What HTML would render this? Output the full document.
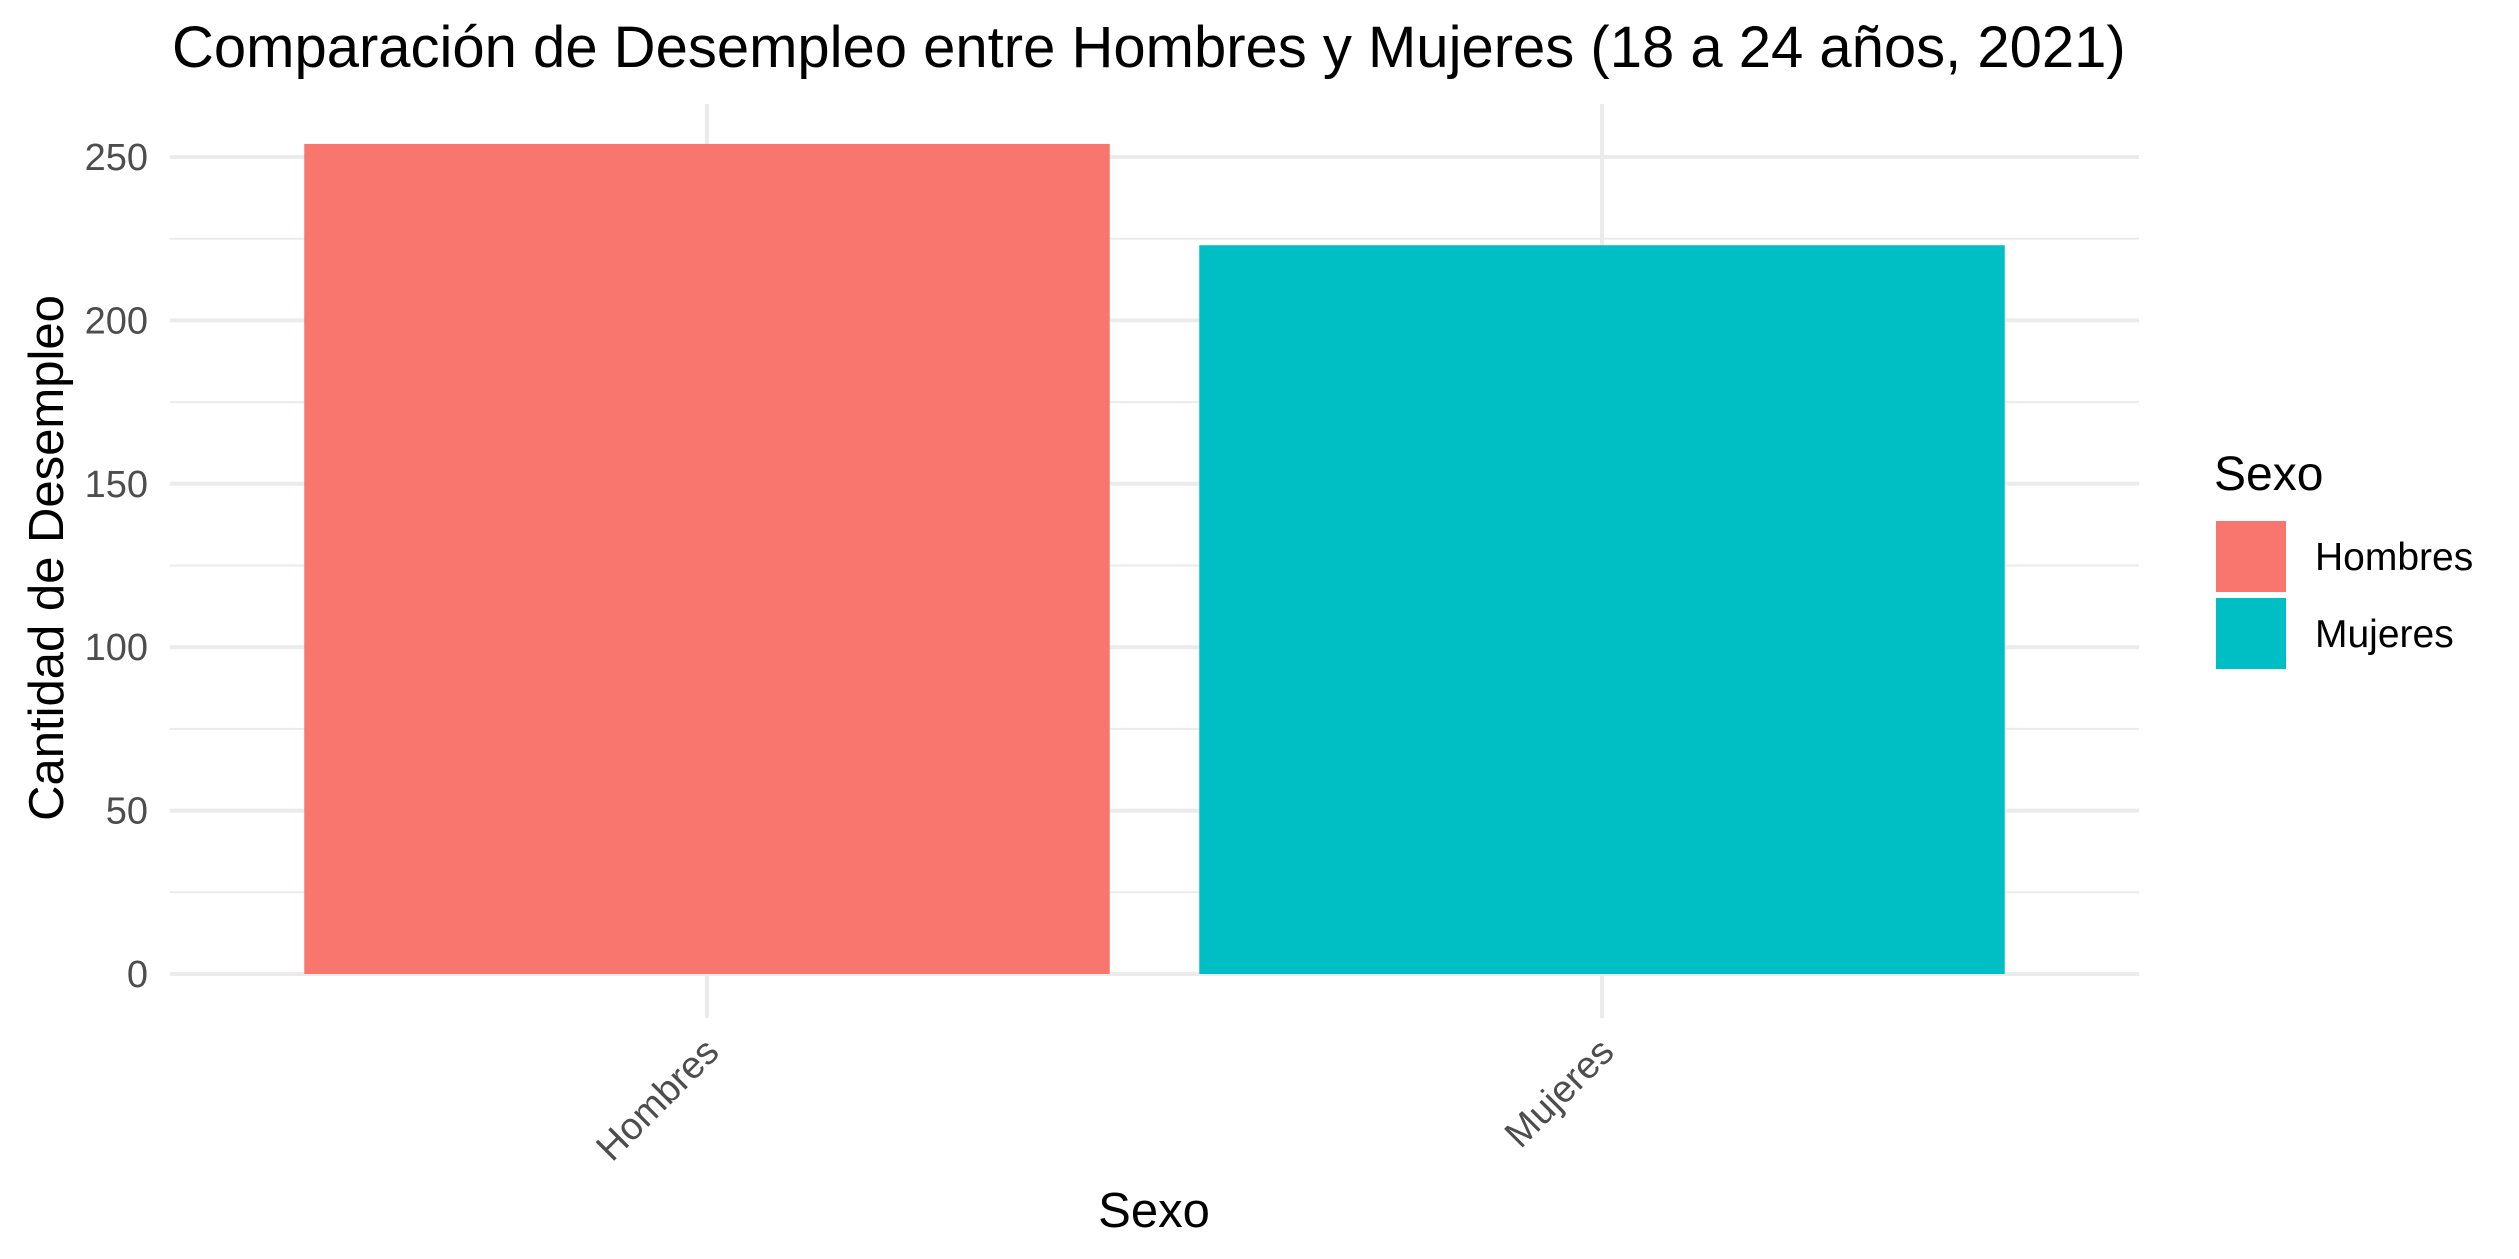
<!DOCTYPE html>
<html><head><meta charset="utf-8"><style>body{margin:0;background:#fff}svg{display:block}</style></head>
<body>
<svg id="chart" width="2519" height="1259" xmlns="http://www.w3.org/2000/svg" font-family="Liberation Sans, sans-serif">
<text x="172" y="67" font-size="58" fill="#000">Comparación de Desempleo entre Hombres y Mujeres (18 a 24 años, 2021)</text>
<g id="grid"></g><g id="bars"></g><g id="axes"></g>
<text transform="translate(63,558) rotate(-90)" text-anchor="middle" font-size="49" fill="#000">Cantidad de Desempleo</text>
<text x="1154" y="1227" text-anchor="middle" font-size="49" fill="#000">Sexo</text>
<g id="legend">
<text x="2214" y="490" font-size="48" fill="#000">Sexo</text>
</g>
</svg>
<script>
const categories = ["Hombres", "Mujeres"];
const values = [254, 223];
const yTicks = [0, 50, 100, 150, 200, 250];
const yMinor = [25, 75, 125, 175, 225];
const colors = ["#F8766D", "#00BFC4"];

const NS = "http://www.w3.org/2000/svg";
const pL = 170, pR = 2139, pT = 104, pB = 1018;
const y0 = 974, yPer = 3.268;
const y = v => y0 - v * yPer;
const unit = (pR - pL) / (categories.length + 0.2);
const x = i => pL + (0.6 + i) * unit;
function mk(tag, attrs, parent) { const e = document.createElementNS(NS, tag); for (const k in attrs) e.setAttribute(k, attrs[k]); parent.appendChild(e); return e; }
const grid = document.getElementById('grid'), bars = document.getElementById('bars'), axes = document.getElementById('axes'), legend = document.getElementById('legend');
yMinor.forEach(v => {
  const l = mk('line', {x1: pL, x2: pR, y1: y(v), y2: y(v), stroke: '#ebebeb', 'stroke-width': 2}, grid);
  
  
});
yTicks.forEach(v => {
  const l = mk('line', {x1: pL, x2: pR, y1: y(v), y2: y(v), stroke: '#ebebeb', 'stroke-width': 4}, grid);
  
  
  const t = mk('text', {x: 148, y: y(v) + 13, 'text-anchor': 'end', 'font-size': 38, fill: '#4d4d4d'}, axes);
  t.textContent = v;
  
  
});
categories.forEach((c, i) => {
  const l = mk('line', {x1: x(i), x2: x(i), y1: pT, y2: pB, stroke: '#ebebeb', 'stroke-width': 4}, grid);
  
  
  const w = 0.9 * unit;
  const b = mk('rect', {x: x(i) - w / 2, y: y(values[i]), width: w, height: y(0) - y(values[i]), fill: colors[i]}, bars);
  
  
  const t = mk('text', {transform: `translate(${x(i) + 14},${pB + 36}) rotate(-45)`, 'text-anchor': 'end', 'font-size': 38, fill: '#4d4d4d'}, axes);
  t.textContent = c;
  
  
  const k = mk('rect', {x: 2216, y: 521 + i * 77, width: 70, height: 71, fill: colors[i]}, legend);
  
  
  const lt = mk('text', {x: 2315, y: 570 + i * 77, 'font-size': 39, fill: '#000'}, legend);
  lt.textContent = c;
  
  
});
</script>
</body></html>
